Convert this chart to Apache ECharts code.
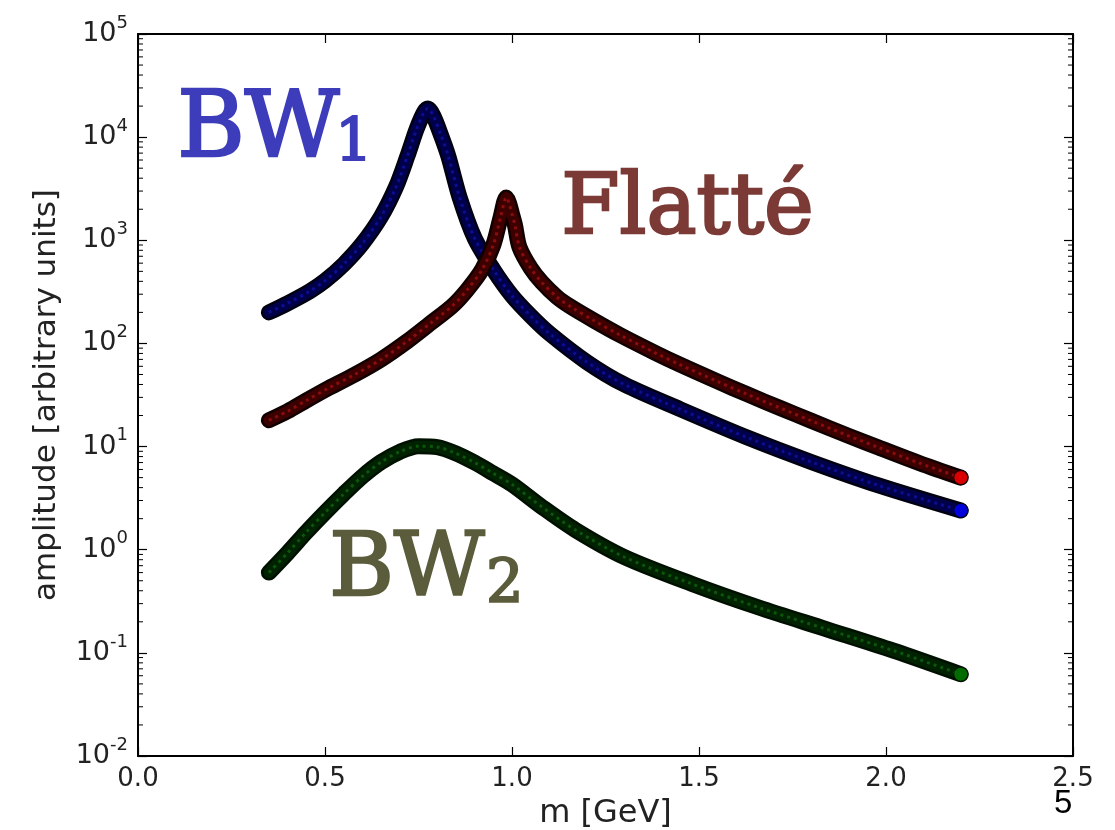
<!DOCTYPE html>
<html><head><meta charset="utf-8">
<script src="https://cdn.jsdelivr.net/npm/echarts@6/dist/echarts.min.js"></script>
<style>html,body{margin:0;padding:0;background:#fff}#c{width:1115px;height:830px}</style>
</head><body><div id="c"></div>
<script>
// ---- data ----
const bw1X = [0.35,0.40,0.46,0.50,0.55,0.60,0.65,0.69,0.72,0.745,0.765,0.775,0.79,0.81,0.83,0.86,0.90,0.95,1.00,1.05,1.10,1.20,1.30,1.45,1.63,1.80,1.98,2.20];
const bw1Y = [200,245,322,405,585,930,1700,3300,6500,12000,17500,19000,16000,10500,6500,2600,1050,520,290,185,125,66,40,23,12.2,7.1,4.2,2.4];

const flatteX = [0.35,0.40,0.45,0.51,0.58,0.65,0.72,0.78,0.84,0.88,0.92,0.95,0.97,0.985,0.992,1.00,1.008,1.02,1.05,1.08,1.12,1.155,1.22,1.29,1.38,1.45,1.55,1.63,1.72,1.80,1.90,1.98,2.09,2.20];
const flatteY = [18,22,28,37,50,70,105,155,230,330,520,900,1700,2600,2300,1800,1400,855,537,390,282,229,166,120,82,62,42.7,32,23.4,17.8,12.7,9.8,6.9,5.0];

const bw2X = [0.35,0.40,0.45,0.50,0.55,0.60,0.65,0.70,0.75,0.80,0.85,0.90,0.95,1.00,1.08,1.17,1.30,1.48,1.66,1.84,2.02,2.20];
const bw2Y = [0.60,0.93,1.48,2.29,3.47,5.13,7.08,8.9,10.1,9.9,8.6,7.0,5.5,4.3,2.6,1.55,0.85,0.468,0.275,0.17,0.105,0.062];

const xTicks = [0.0,0.5,1.0,1.5,2.0,2.5];
const yTickExps = [-2,-1,0,1,2,3,4,5];

// ---- helpers ----
const pairs = (xs, ys) => xs.map((x, i) => [x, ys[i]]);
const minorVals = [];
for (let e = yTickExps[0]; e < yTickExps[yTickExps.length-1]; e++) {
  for (let k = 2; k <= 9; k++) minorVals.push([0, k * Math.pow(10, e)]);
}

function band(name, data, outer, inner, dots) {
  const common = {type:'line', data: data, showSymbol:false, smooth:0.3, silent:true, animation:false};
  return [
    Object.assign({}, common, {name:name+'o', lineStyle:{color:outer, width:16, cap:'round', join:'round'}}),
    Object.assign({}, common, {name:name+'i', lineStyle:{color:inner, width:11, cap:'round', join:'round'}}),
    Object.assign({}, common, {name:name+'d', lineStyle:{color:dots, width:3, type:[3,4], opacity:0.4}})
  ];
}
function endDot(xs, ys, color) {
  return {type:'scatter', data:[[xs[xs.length-1], ys[ys.length-1]]], symbol:'circle', symbolSize:14,
    itemStyle:{color:color, borderColor:'#000', borderWidth:1}, silent:true, animation:false, z:3};
}

const chart = echarts.init(document.getElementById('c'), null, {renderer:'canvas'});
const axFont = 'DejaVu Sans';
const serif = 'DejaVu Serif';
chart.setOption({
  backgroundColor:'#fff',
  animation:false,
  grid:{left:138, right:42, top:34, bottom:74, containLabel:false, outerBoundsMode:'none'},
  xAxis:[{
    type:'value', min:0, max:2.5, interval:0.5, position:'bottom',
    axisLine:{show:true, onZero:false, lineStyle:{color:'#000', width:2}},
    axisTick:{show:true, inside:true, length:9, lineStyle:{color:'#000', width:1.2}},
    splitLine:{show:false},
    axisLabel:{color:'#222', fontSize:26, fontFamily:axFont, margin:10,
      formatter:v => (xTicks.find(t => Math.abs(t - v) < 1e-9) ?? v).toFixed(1)},
    name:'m [GeV]', nameLocation:'middle', nameGap:42,
    nameTextStyle:{color:'#222', fontSize:32, fontFamily:axFont}
  },{
    type:'value', min:0, max:2.5, interval:0.5, position:'top',
    axisLine:{show:true, onZero:false, lineStyle:{color:'#000', width:2}},
    axisTick:{show:true, inside:true, length:9, lineStyle:{color:'#000', width:1.2}},
    axisLabel:{show:false}, splitLine:{show:false}
  }],
  yAxis:[{
    type:'log', logBase:10, min:0.01, max:100000, position:'left',
    axisLine:{show:true, onZero:false, lineStyle:{color:'#000', width:2}},
    axisTick:{show:true, inside:true, length:9, lineStyle:{color:'#000', width:1.2}},
    splitLine:{show:false},
    axisLabel:{color:'#222', fontFamily:axFont, margin:10,
      formatter:v => '{b|10}{s|' + Math.round(Math.log10(v)) + '}',
      rich:{b:{fontSize:27, lineHeight:40, fontFamily:axFont, color:'#222', verticalAlign:'middle'},
            s:{fontSize:18, lineHeight:18, fontFamily:axFont, color:'#222', verticalAlign:'top'}}},
    name:'amplitude [arbitrary units]', nameLocation:'middle', nameGap:76, nameRotate:90,
    nameTextStyle:{color:'#222', fontSize:31, fontFamily:axFont}
  },{
    type:'log', logBase:10, min:0.01, max:100000, position:'right',
    axisLine:{show:true, onZero:false, lineStyle:{color:'#000', width:2}},
    axisTick:{show:true, inside:true, length:9, lineStyle:{color:'#000', width:1.2}},
    axisLabel:{show:false}, splitLine:{show:false}
  }],
  series:[
    ...band('bw1', pairs(bw1X, bw1Y), '#000010', '#00004a', '#2020ff'),
    ...band('fl', pairs(flatteX, flatteY), '#100000', '#3c0000', '#ff2020'),
    ...band('bw2', pairs(bw2X, bw2Y), '#001000', '#002200', '#20a020'),
    endDot(bw1X, bw1Y, '#0000ff'),
    endDot(flatteX, flatteY, '#ff0000'),
    endDot(bw2X, bw2Y, '#008000'),
    {type:'custom', data:minorVals, encode:{x:0, y:1}, silent:true, animation:false, clip:false,
     renderItem:(params, api) => {
       const v = api.value(1);
       const a = api.coord([0, v]);
       const b = api.coord([2.5, v]);
       return {type:'group', children:[
         {type:'line', shape:{x1:a[0], y1:a[1], x2:a[0]+5, y2:a[1]}, style:{stroke:'#000', lineWidth:1}},
         {type:'line', shape:{x1:b[0]-5, y1:b[1], x2:b[0], y2:b[1]}, style:{stroke:'#000', lineWidth:1}}
       ]};
     }}
  ],
  graphic:[
    {type:'text', left:176, top:85, silent:true, style:{text:'BW', fontSize:92, fontFamily:serif, fill:'#3d3dbb', stroke:'#3d3dbb', lineWidth:2.5}},
    {type:'text', left:334, top:115, silent:true, style:{text:'1', fontSize:59, fontFamily:serif, fill:'#3d3dbb', stroke:'#3d3dbb', lineWidth:2}},
    {type:'text', left:560, top:168, silent:true, style:{text:'Flatté', fontSize:84, fontFamily:serif, fill:'#7b3a35', stroke:'#7b3a35', lineWidth:2.5}},
    {type:'text', left:328, top:527, silent:true, style:{text:'BW', fontSize:88, fontFamily:serif, fill:'#5b5c3b', stroke:'#5b5c3b', lineWidth:2.5}},
    {type:'text', left:485, top:556, silent:true, style:{text:'2', fontSize:59, fontFamily:serif, fill:'#5b5c3b', stroke:'#5b5c3b', lineWidth:2}},
    {type:'text', left:1054, top:787, silent:true, style:{text:'5', fontSize:33, fontFamily:'Liberation Sans', fill:'#000'}}
  ]
});
</script>
</body></html>
